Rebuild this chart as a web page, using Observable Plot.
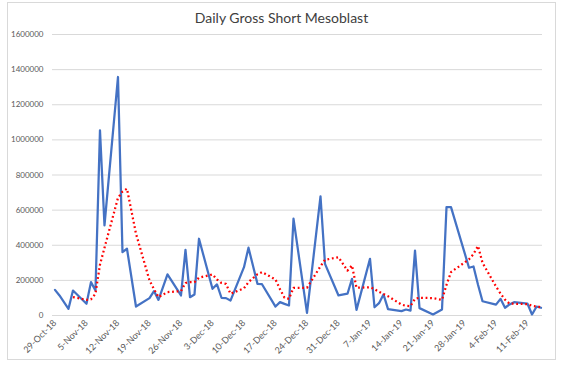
<!DOCTYPE html>
<html>
<head>
<meta charset="utf-8">
<script src="https://cdn.jsdelivr.net/npm/d3@7"></script>
<script src="https://cdn.jsdelivr.net/npm/@observablehq/plot@0.6"></script>
<style>
  body { margin: 0; background: #fff; }
  #wrap { position: relative; width: 565px; height: 365px; background: #fff; font-family: Lato, "Liberation Sans", sans-serif; }
  #frame { position: absolute; left: 7px; top: 2px; width: 549px; height: 358px; border: 1px solid #d9d9d9; box-sizing: border-box; }
  #title { position: absolute; left: 0; top: 9px; width: 563px; text-align: center; font-size: 14px; line-height: 18px; color: #404040; }
  #chart { position: absolute; left: 0; top: 27px; }
</style>
</head>
<body>
<div id="wrap">
  <div id="frame"></div>
  <div id="title">Daily Gross Short Mesoblast</div>
  <div id="chart"></div>
</div>
<script>
// Daily gross short (blue line)
const dates = [
  "2018-10-29","2018-10-30","2018-11-01","2018-11-02","2018-11-05","2018-11-06","2018-11-07","2018-11-08","2018-11-09",
  "2018-11-12","2018-11-13","2018-11-14","2018-11-16","2018-11-19","2018-11-20","2018-11-21","2018-11-23",
  "2018-11-26","2018-11-27","2018-11-28","2018-11-29","2018-11-30","2018-12-03","2018-12-04","2018-12-05","2018-12-06","2018-12-07",
  "2018-12-10","2018-12-11","2018-12-13","2018-12-14","2018-12-17","2018-12-18","2018-12-19","2018-12-20","2018-12-21",
  "2018-12-24","2018-12-27","2018-12-28","2018-12-31","2019-01-02","2019-01-03","2019-01-04",
  "2019-01-07","2019-01-08","2019-01-09","2019-01-10","2019-01-11","2019-01-14","2019-01-15","2019-01-16","2019-01-17","2019-01-18",
  "2019-01-21","2019-01-23","2019-01-24","2019-01-25","2019-01-29","2019-01-30","2019-01-31","2019-02-01",
  "2019-02-04","2019-02-05","2019-02-06","2019-02-07","2019-02-08","2019-02-11","2019-02-12","2019-02-13","2019-02-14"
];
const grossShort = [
  146000,114000,38000,142000,67000,190000,142000,1054000,513000,
  1358000,361000,380000,51000,99000,139000,89000,234000,
  114000,374000,104000,120000,437000,152000,177000,101000,99000,85000,
  275000,386000,180000,178000,51000,76000,66000,57000,551000,
  15000,678000,294000,114000,124000,209000,32000,
  323000,47000,70000,120000,36000,25000,34000,28000,370000,42000,
  6000,34000,617000,617000,272000,279000,175000,81000,
  62000,95000,44000,63000,76000,67000,6000,50000,44000
];
// Moving average (red dotted line)
const maDates = [
  "2018-11-02","2018-11-05","2018-11-06","2018-11-07","2018-11-08","2018-11-09",
  "2018-11-12","2018-11-13","2018-11-14","2018-11-16","2018-11-19","2018-11-20","2018-11-21","2018-11-23",
  "2018-11-26","2018-11-27","2018-11-28","2018-11-29","2018-11-30","2018-12-03","2018-12-04","2018-12-05","2018-12-06","2018-12-07",
  "2018-12-10","2018-12-11","2018-12-13","2018-12-14","2018-12-17","2018-12-18","2018-12-19","2018-12-20","2018-12-21",
  "2018-12-24","2018-12-27","2018-12-28","2018-12-31","2019-01-02","2019-01-03","2019-01-04",
  "2019-01-07","2019-01-08","2019-01-09","2019-01-10","2019-01-11","2019-01-14","2019-01-15","2019-01-16","2019-01-17","2019-01-18",
  "2019-01-21","2019-01-23","2019-01-24","2019-01-25","2019-01-29","2019-01-30","2019-01-31","2019-02-01",
  "2019-02-04","2019-02-05","2019-02-06","2019-02-07","2019-02-08","2019-02-11","2019-02-12","2019-02-13","2019-02-14"
];
const movingAvg = [
  105000,89000,92000,124000,290000,385000,
  670000,705000,722000,466000,200000,150000,105000,133000,
  139000,185000,190000,190000,215000,234000,205000,185000,180000,124000,
  155000,190000,235000,247000,205000,150000,101000,95000,158000,
  158000,280000,317000,332000,256000,285000,158000,
  161000,150000,135000,122000,110000,62000,55000,53000,95000,101000,
  99000,89000,175000,247000,320000,350000,396000,300000,
  165000,125000,90000,67000,67000,65000,55000,52000,47000
];
const xTickLabels = ["29-Oct-18","5-Nov-18","12-Nov-18","19-Nov-18","26-Nov-18","3-Dec-18","10-Dec-18","17-Dec-18",
  "24-Dec-18","31-Dec-18","7-Jan-19","14-Jan-19","21-Jan-19","28-Jan-19","4-Feb-19","11-Feb-19"];
const yTicks = [0,200000,400000,600000,800000,1000000,1200000,1400000,1600000];

const parse = d3.utcParse("%Y-%m-%d");
const parseTick = d3.utcParse("%d-%b-%y");
const series = dates.map((d, i) => ({date: parse(d), value: grossShort[i]}));
const maSeries = maDates.map((d, i) => ({date: parse(d), value: movingAvg[i]}));
const tickDates = xTickLabels.map(s => parseTick(s));
const fmt = d3.utcFormat("%-d-%b-%y");
const day = 864e5;
const start = tickDates[0];

const chart = Plot.plot({
  width: 565,
  height: 338,
  marginTop: 7,
  marginBottom: 50,
  marginLeft: 52,
  marginRight: 23,
  style: {fontFamily: "Lato, 'Liberation Sans', sans-serif", fontSize: "8px", color: "#595959", background: "transparent", overflow: "visible"},
  x: {type: "utc", domain: [new Date(+start - 0.55 * day), new Date(+start + 108.33 * day)]},
  y: {domain: [0, 1600000]},
  marks: [
    Plot.gridY(yTicks, {stroke: "#d9d9d9", strokeOpacity: 1, strokeWidth: 1}),
    Plot.line(series, {x: "date", y: "value", stroke: "#4472C4", strokeWidth: 2.25, strokeLinejoin: "round"}),
    Plot.line(maSeries, {x: "date", y: "value", stroke: "#FF0000", strokeWidth: 2.25, strokeDasharray: "1.8 2.7", strokeLinecap: "butt"}),
    Plot.axisY(yTicks, {tickSize: 0, tickPadding: 9, tickFormat: d => String(d), label: null, fill: "#595959"}),
    Plot.axisX(tickDates, {tickSize: 0, tickPadding: 6, tickRotate: -45, tickFormat: fmt, label: null, fill: "#595959", fontSize: 9})
  ]
});
document.getElementById("chart").appendChild(chart);
</script>
</body>
</html>
